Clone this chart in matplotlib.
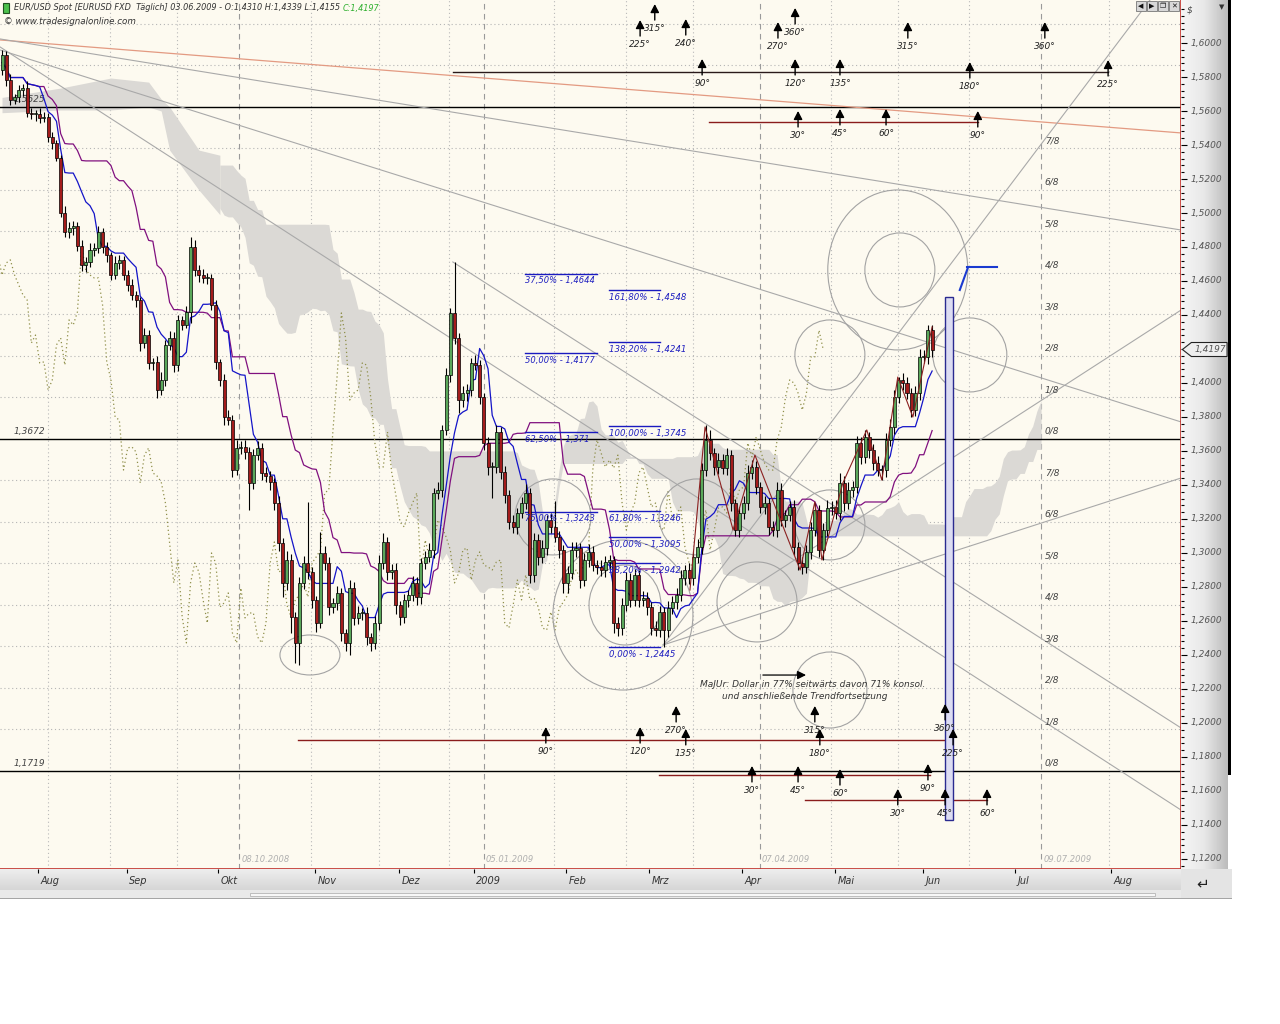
import numpy as np
import pandas as pd
import matplotlib
matplotlib.use("Agg")
import matplotlib.pyplot as plt
from matplotlib.patches import Rectangle, Ellipse, Polygon, FancyArrowPatch
from matplotlib.colors import LinearSegmentedColormap

# ---------------- DATA ----------------
first_open = 1.5841
close = [
 1.5929,1.5782,1.5665,1.5682,1.5724,1.5735,1.5588,1.5582,1.5582,1.5559,
 1.5565,1.5447,1.5412,1.5324,1.5000,1.4888,1.4912,1.4924,1.4806,1.4694,
 1.4712,1.4782,1.4794,1.4888,1.4800,1.4753,1.4635,1.4706,1.4724,1.4635,
 1.4577,1.4518,1.4488,1.4235,1.4282,1.4118,1.4124,1.3959,1.4018,1.4224,
 1.4265,1.4106,1.4371,1.4341,1.4418,1.4800,1.4665,1.4635,1.4618,1.4618,
 1.4459,1.4124,1.4018,1.3800,1.3782,1.3488,1.3618,1.3624,1.3594,1.3412,
 1.3576,1.3618,1.3471,1.3453,1.3418,1.3294,1.3059,1.2824,1.2959,1.2624,
 1.2471,1.2824,1.2941,1.2888,1.2724,1.2588,1.3000,1.2941,1.2682,1.2706,
 1.2765,1.2529,1.2471,1.2794,1.2618,1.2647,1.2647,1.2506,1.2471,1.2588,
 1.2941,1.3065,1.2888,1.2900,1.2694,1.2624,1.2724,1.2753,1.2824,1.2741,
 1.2941,1.2977,1.3018,1.3353,1.3371,1.3724,1.4047,1.4412,1.4265,1.3900,
 1.3941,1.3959,1.4118,1.4106,1.3918,1.3647,1.3506,1.3506,1.3712,1.3476,
 1.3341,1.3182,1.3153,1.3235,1.3294,1.3353,1.2871,1.3076,1.2977,1.3029,
 1.3194,1.3153,1.3094,1.3018,1.2824,1.2882,1.3018,1.3029,1.2841,1.2959,
 1.3006,1.2929,1.2918,1.2900,1.2947,1.2959,1.2588,1.2559,1.2694,1.2841,
 1.2724,1.2871,1.2724,1.2735,1.2682,1.2559,1.2547,1.2653,1.2547,1.2677,
 1.2712,1.2753,1.2853,1.2900,1.2853,1.2977,1.3035,1.3488,1.3665,1.3588,
 1.3506,1.3547,1.3500,1.3576,1.3294,1.3135,1.3235,1.3294,1.3471,1.3506,
 1.3388,1.3271,1.3294,1.3153,1.3135,1.3371,1.3194,1.3224,1.3271,1.3035,
 1.2941,1.2918,1.3006,1.3135,1.3253,1.3018,1.3135,1.3265,1.3271,1.3235,
 1.3412,1.3294,1.3371,1.3388,1.3647,1.3565,1.3682,1.3606,1.3529,1.3488,
 1.3488,1.3665,1.3741,1.3918,1.4018,1.4000,1.3941,1.3841,1.3941,1.4153,
 1.4153,1.4310,1.4197]
upper_wick_pips = [
 30,25,35,20,30,25,40,30,25,35, 30,25,30,20,15,40,35,30,25,35,
 30,40,30,35,25,30,20,40,30,25, 30,35,25,20,40,30,25,35,45,30,
 40,35,30,25,35,60,40,30,35,30, 25,30,20,35,40,30,45,35,40,30,
 35,40,30,35,30,25,40,30,50,35, 30,35,40,360,30,25,125,40,35,30,
 40,30,25,45,35,40,30,35,25,40, 45,50,30,35,40,25,35,30,40,35,
 30,35,40,30,45,30,40,30,300,30, 40,35,30,45,30,25,35,30,40,30,
 35,30,40,30,35,50,30,40,35,45, 30,40,150,35,30,40,45,35,30,40,
 45,35,30,40,35,30,25,35,40,45, 40,35,30,40,35,30,40,35,30,40,
 35,40,45,30,40,35,45,40,90,60, 30,40,35,40,30,25,35,40,45,40,
 35,30,40,30,35,45,40,30,35,40, 30,35,40,45,40,30,40,45,35,40,
 60,40,45,35,40,35,40,30,35,40, 30,40,45,40,20,40,35,30,40,45,
 40,30,29]
lower_wick_pips = [
 30,35,30,25,30,35,25,30,40,30, 25,30,35,20,25,30,35,40,30,35,
 40,30,35,30,35,40,30,25,35,30, 35,30,40,45,30,35,40,50,30,35,
 30,40,35,30,20,65,35,40,30,35, 30,40,35,45,30,40,30,35,40,160,
 35,30,40,35,45,40,50,80,40,95, 120,130,35,40,45,50,30,40,45,35,
 40,45,50,70,40,35,40,45,50,35, 40,35,45,40,50,45,35,40,35,45,
 40,35,30,45,35,40,30,40,35,75, 40,45,35,30,40,40,50,180,35,40,
 45,40,35,40,30,35,50,40,45,35, 40,35,30,45,60,60,35,40,45,35,
 40,35,40,35,40,35,60,50,40,35, 40,35,40,35,45,40,35,40,100,40,
 35,40,35,40,35,40,35,40,35,40, 45,40,35,40,45,35,40,35,40,35,
 40,35,40,45,35,40,35,40,35,45, 40,40,35,40,35,40,60,35,40,35,
 40,45,35,40,35,40,35,45,40,35, 60,40,35,40,35,40,35,40,35,40,
 35,40,42]

month_labels = ["Aug", "Sep", "Okt", "Nov", "Dez", "2009", "Feb", "Mrz", "Apr", "Mai", "Jun", "Jul", "Aug"]
month_bar = [8.6, 29.8, 51.6, 74.7, 94.7, 112.6, 134.6, 154.4, 176.6, 198.8, 219.8, 241.8, 264.7]
grid_dotted_bar = [11.0, 25.8, 41.8, 73.7, 90.0, 106.7, 131.7, 148.9, 164.9, 197.9, 213.8, 230.8, 264.2]
grid_dashed_bar = [56.6, 115.0, 180.9, 248.0]
grid_dashed_labels = ["08.10.2008", "05.01.2009", "07.04.2009", "09.07.2009"]

# Ichimoku cloud before enough history is on the chart
pre_cloud_bar = [0, 14, 26, 35, 38, 40, 47, 52]
pre_cloud_top = [1.5680, 1.5735, 1.5794, 1.5770, 1.5670, 1.5624, 1.5370, 1.5340]
pre_cloud_bot = [1.5590, 1.5606, 1.5606, 1.5624, 1.5600, 1.5370, 1.5135, 1.4990]

murrey_base = 1.1719
murrey_step = 0.0244125
murrey_solid_labels = ["1,1719", "1,3672", "1,5625"]

fib_left_labels = ["37,50% - 1,4644", "50,00% - 1,4177", "62,50% - 1,371", "75,00% - 1,3243"]
fib_left_values = [1.4644, 1.4177, 1.3710, 1.3243]
fib_left_span = (124.8, 142.0)
fib_right_labels = ["161,80% - 1,4548", "138,20% - 1,4241", "100,00% - 1,3745", "61,80% - 1,3246",
                    "50,00% - 1,3095", "38,20% - 1,2942", "0,00% - 1,2445"]
fib_right_values = [1.4548, 1.4241, 1.3745, 1.3246, 1.3095, 1.2942, 1.2445]
fib_right_span = (144.9, 157.0)

# trend lines: (bar0, price0, bar1, price1)
trend_orange = [(-0.48, 1.6018, 281.4, 1.5471)]
trend_gray = [(-0.48, 1.6024, 281.4, 1.4900),
              (-0.48, 1.5959, 281.4, 1.3771),
              (-0.48, 1.5977, 281.4, 1.1488),
              (107.6, 1.4712, 281.4, 1.1971),
              (157.8, 1.2459, 274.0, 1.6253),
              (157.8, 1.2459, 281.4, 1.4429),
              (157.8, 1.2459, 281.4, 1.3441)]

# zigzag pivots
zz_bar = [164.2, 167.8, 174.5, 179.7, 190.5, 194.0, 195.7, 200.7, 206.4, 210.0, 213.8, 217.4, 222.0]
zz_price = [1.2782, 1.3741, 1.3135, 1.3576, 1.2900, 1.3300, 1.2959, 1.3412, 1.3724, 1.3429, 1.4035, 1.3800, 1.4330]

# Gann circles: center bar, center price, radius (screen px)
circ_bar = [73.5, 131.5, 148.2, 148.7, 165.9, 180.2, 197.6, 197.6, 213.8, 214.3, 231.0, 197.6]
circ_price = [1.2400, 1.3212, 1.2635, 1.2694, 1.3212, 1.2712, 1.3165, 1.4165, 1.4665, 1.4665, 1.4165, 1.2194]
circ_rx = [30, 38, 70, 36, 38, 40, 35, 35, 70, 35, 37, 37]
circ_ry = [20, 38, 75, 40, 38, 40, 35, 35, 80, 37, 37, 38]

# Gann angle arrows: bar, base price, label
arrow_bar = [152.3, 155.8, 163.2, 167.1, 185.2, 189.3, 189.3, 200.0, 216.2, 231.0, 248.9, 264.0,
             190.0, 200.0, 211.0, 232.9,
             129.8, 152.3, 163.2, 160.9, 194.0, 195.2, 225.1, 227.0,
             179.0, 190.0, 200.0, 221.0, 213.8, 225.1, 235.1]
arrow_base = [1.6041, 1.6135, 1.6047, 1.5812, 1.6029, 1.6112, 1.5812, 1.5812, 1.6029, 1.5794, 1.6029, 1.5806,
              1.5506, 1.5518, 1.5518, 1.5506,
              1.1882, 1.1882, 1.1871, 1.2006, 1.2006, 1.1871, 1.2018, 1.1871,
              1.1653, 1.1653, 1.1635, 1.1665, 1.1518, 1.1518, 1.1518]
arrow_label = ["225°", "315°", "240°", "90°", "270°", "360°", "120°", "135°", "315°", "180°", "360°", "225°",
               "30°", "45°", "60°", "90°",
               "90°", "120°", "135°", "270°", "315°", "180°", "360°", "225°",
               "30°", "45°", "60°", "90°", "30°", "45°", "60°"]
# horizontal level segments: price, bar0, bar1, colour key
level_price = [1.5829, 1.5535, 1.1900, 1.1694, 1.1547]
level_b0 = [107.6, 168.7, 70.6, 156.8, 191.6]
level_b1 = [264.0, 233.0, 226.3, 221.5, 235.1]
level_kind = ["dark", "red", "red", "red", "red"]

box_bars = (225.1, 227.0)
box_prices = (1.1429, 1.4506)

note_lines = ["MaJUr: Dollar in 77% seitwärts davon 71% konsol.", "und anschließende Trendfortsetzung"]

# ---------------- DERIVED ----------------
n = len(close)
x = np.arange(n)
c = np.array(close)
o = np.concatenate([[first_open], c[:-1]])
h = np.maximum(o, c) + np.array(upper_wick_pips) * 1e-4
l = np.minimum(o, c) - np.array(lower_wick_pips) * 1e-4
hs, ls = pd.Series(h), pd.Series(l)
tenkan = (hs.rolling(9, min_periods=1).max() + ls.rolling(9, min_periods=1).min()) / 2
kijun = (hs.rolling(26, min_periods=1).max() + ls.rolling(26, min_periods=1).min()) / 2
spanA = (tenkan + kijun) / 2
spanB = (hs.rolling(52, min_periods=1).max() + ls.rolling(52, min_periods=1).min()) / 2

# ---------------- FIGURE ----------------
W, H = 1280, 1024
PR, PB = 1181, 869
fig = plt.figure(figsize=(W / 100, H / 100), dpi=100)
fig.patch.set_facecolor("white")
XMIN, XMAX = -0.48, 281.4
YMIN, YMAX = 1.1141, 1.6253
ax = fig.add_axes([0, 1 - PB / H, PR / W, PB / H])
ax.set_facecolor("#fdfaf0")
ax.set_xlim(XMIN, XMAX)
ax.set_ylim(YMIN, YMAX)
ax.set_xticks([]); ax.set_yticks([])
for s in ["top", "left"]:
    ax.spines[s].set_visible(False)
for s in ["right", "bottom"]:
    ax.spines[s].set_color("#c0302a"); ax.spines[s].set_linewidth(1.2)

pxb = PR / (XMAX - XMIN)   # px per bar
pxp = PB / (YMAX - YMIN)   # px per price unit

FONT = dict(family="DejaVu Sans", style="italic")

# grid
for b in grid_dotted_bar:
    ax.axvline(b, color="#b9b9b9", lw=0.8, ls=(0, (1, 2.5)), zorder=0.5)
for b, lab in zip(grid_dashed_bar, grid_dashed_labels):
    ax.axvline(b, color="#9a9a9a", lw=0.8, ls=(0, (5, 4)), zorder=0.5)
    ax.text(b + 0.5, 0.006, lab, transform=ax.get_xaxis_transform(), fontsize=6, color="#b0b0b0",
            ha="left", va="bottom", **FONT)

# Murrey math lines
for k in range(0, 19):
    lev = murrey_base + k * murrey_step
    if k % 8 == 0:
        ax.axhline(lev, color="black", lw=1.0, zorder=2)
    else:
        ax.axhline(lev, color="#b5b5b5", lw=0.8, ls=(0, (1, 2.5)), zorder=0.5)
for k in range(0, 16):
    lev = murrey_base + k * murrey_step
    ax.annotate(f"{k % 8}/8", (250.6, lev), xytext=(0, 2), textcoords="offset points",
                ha="center", va="bottom", fontsize=6.5, color="#444444", **FONT)
for k, lab in zip([0, 8, 16], murrey_solid_labels):
    lev = murrey_base + k * murrey_step
    ax.annotate(lab, (6.5, lev), xytext=(0, 2), textcoords="offset points", ha="center",
                va="bottom", fontsize=6.5, color="#444444", **FONT, zorder=3)

# cloud
ax.fill_between(pre_cloud_bar, pre_cloud_top, pre_cloud_bot, color="#dbd9d5", lw=0, zorder=1)
xs = x[26:] + 26
ax.fill_between(xs, spanA.values[26:], spanB.values[26:], color="#dbd9d5", lw=0, zorder=1)

# trend lines
for (b0, p0, b1, p1) in trend_orange:
    ax.plot([b0, b1], [p0, p1], color="#e39a82", lw=0.9, zorder=2)
for (b0, p0, b1, p1) in trend_gray:
    ax.plot([b0, b1], [p0, p1], color="#a9a9a9", lw=0.8, zorder=2)

# chikou
ax.plot(x - 26, c, color="#8f8f4a", lw=0.9, ls=(0, (1, 2.2)), zorder=2)
# tenkan / kijun
ax.plot(x, kijun, color="#80107f", lw=0.9, zorder=3)
ax.plot(x, tenkan, color="#1414c8", lw=0.9, zorder=3)

# circles
for cb, cp, rx, ry in zip(circ_bar, circ_price, circ_rx, circ_ry):
    ax.add_patch(Ellipse((cb, cp), 2 * rx / pxb, 2 * ry / pxp, fill=False, ec="#a3a3a3", lw=0.8, zorder=2))

# candles
ax.vlines(x, l, h, color="black", lw=0.8, zorder=5)
cols = np.where(c >= o, "#5aa85a", "#a41c1c")
ax.bar(x, np.maximum(np.abs(c - o), 0.0004), bottom=np.minimum(o, c), width=0.72,
       color=cols, edgecolor="black", linewidth=0.5, zorder=6)

# zigzag
ax.plot(zz_bar, zz_price, color="#8b2020", lw=0.8, zorder=6.5)

# fibonacci levels
for lab, v in zip(fib_left_labels, fib_left_values):
    ax.plot(fib_left_span, [v, v], color="#1a1ac0", lw=1.0, zorder=4)
    ax.annotate(lab, (fib_left_span[0], v), xytext=(0, -2), textcoords="offset points",
                ha="left", va="top", fontsize=6, color="#2020c0", **FONT, zorder=7)
for lab, v in zip(fib_right_labels, fib_right_values):
    ax.plot(fib_right_span, [v, v], color="#1a1ac0", lw=1.0, zorder=4)
    ax.annotate(lab, (fib_right_span[0], v), xytext=(0, -2), textcoords="offset points",
                ha="left", va="top", fontsize=6.2, color="#2020c0", **FONT, zorder=7)

# level segments
for p, b0, b1, kind in zip(level_price, level_b0, level_b1, level_kind):
    ax.plot([b0, b1], [p, p], color="#2a1a1a" if kind == "dark" else "#8a1c1c", lw=1.0, zorder=4)

# arrows
alen = 16 / pxp
for b, p, lab in zip(arrow_bar, arrow_base, arrow_label):
    ax.add_patch(FancyArrowPatch((b, p), (b, p + alen), arrowstyle="-|>,head_length=5,head_width=2.6",
                                 color="black", lw=1.0, zorder=8, shrinkA=0, shrinkB=0))
    ax.annotate(lab, (b, p), xytext=(0, -3), textcoords="offset points", ha="center", va="top",
                fontsize=6.5, color="#222222", **FONT, zorder=8)

# vertical box
ax.add_patch(Rectangle((box_bars[0], box_prices[0]), box_bars[1] - box_bars[0], box_prices[1] - box_prices[0],
                       facecolor="#dcdcf2", edgecolor="#2a2a90", lw=1.0, zorder=7))
# blue T mark
ax.plot([230.3, 237.5], [1.4682, 1.4682], color="#1a3ad0", lw=1.5, zorder=8)
ax.plot([230.5, 228.6], [1.4676, 1.4547], color="#1a3ad0", lw=1.5, zorder=8)

# note
ax.text(193.6, 1.2224, note_lines[0], ha="center", va="center", fontsize=6.5, color="#333333", **FONT, zorder=8)
ax.text(191.5, 1.2153, note_lines[1], ha="center", va="center", fontsize=6.5, color="#333333", **FONT, zorder=8)
ax.add_patch(FancyArrowPatch((181.6, 1.2282), (191.9, 1.2282), arrowstyle="-|>,head_length=5,head_width=2.5",
                             color="black", lw=0.9, zorder=8, shrinkA=0, shrinkB=0))

# header
fig.patches.append(Rectangle((3 / W, 1 - 13 / H), 6 / W, 10 / H, transform=fig.transFigure,
                             facecolor="#4cc04c", edgecolor="#205020", lw=0.8))
t1 = fig.text(14 / W, 1 - 8 / H, "EUR/USD Spot [EURUSD FXD  Täglich] 03.06.2009 - O:1,4310 H:1,4339 L:1,4155 ",
              fontsize=5.9, color="#333333", va="center", ha="left", **FONT)
fig.canvas.draw()
bb = t1.get_window_extent()
fig.text(bb.x1 / W, 1 - 8 / H, "C:1,4197", fontsize=5.9, color="#30b030", va="center", ha="left", **FONT)
fig.text(4 / W, 1 - 22 / H, "© www.tradesignalonline.com", fontsize=6.3, color="#333333", va="center", ha="left", **FONT)

# right price panel
axr = fig.add_axes([PR / W, 1 - PB / H, 47 / W, PB / H])
grad = LinearSegmentedColormap.from_list("g", ["#f6f6f6", "#e8e8e8", "#bcbcbc"])
axr.imshow(np.linspace(0, 1, 64).reshape(1, -1), cmap=grad, aspect="auto", extent=[0, 1, 0, 1],
           transform=axr.transAxes)
axr.set_xlim(0, 1); axr.set_ylim(YMIN, YMAX)
for s in axr.spines.values():
    s.set_visible(False)
major = np.arange(1.12, 1.6001, 0.02)
minor = np.arange(1.116, 1.624, 0.004)
axr.set_yticks(major); axr.set_yticks(minor, minor=True)
axr.set_xticks([])
axr.tick_params(axis="y", which="major", direction="in", length=4, width=0.8, left=True, labelleft=False)
axr.tick_params(axis="y", which="minor", direction="in", length=2.5, width=0.8, left=True)
last = close[-1]
for v in major:
    if abs(v - last) < 0.008:
        continue
    axr.text(0.2, v, f"{v:.4f}".replace(".", ","), transform=axr.get_yaxis_transform(), fontsize=6.5,
             color="#555555", va="center", ha="left", **FONT)
axr.text(0.12, 0.994, "$", transform=axr.transAxes, fontsize=6.5, color="#444", va="top", **FONT)
axr.text(0.8, 0.995, "▼", transform=axr.transAxes, fontsize=5, color="#333", va="top")
hp = 7 / pxp
axr.add_patch(Polygon([[0.03, last], [0.22, last + hp], [0.98, last + hp], [0.98, last - hp], [0.22, last - hp]],
                      closed=True, transform=axr.get_yaxis_transform(), facecolor="#eeeeee",
                      edgecolor="#222222", lw=0.8, zorder=5))
axr.text(0.28, last, f"{last:.4f}".replace(".", ","), transform=axr.get_yaxis_transform(), fontsize=6.5,
         color="#555555", va="center", ha="left", zorder=6, **FONT)
fig.patches.append(Rectangle((1228 / W, 1 - 775 / H), 3 / W, 775 / H, transform=fig.transFigure,
                             facecolor="black", lw=0))

# bottom time panel
axb = fig.add_axes([0, 1 - 890 / H, PR / W, 21 / H])
gradv = LinearSegmentedColormap.from_list("gv", ["#eeeeee", "#d6d6d6"])
axb.imshow(np.linspace(0, 1, 32).reshape(-1, 1), cmap=gradv, aspect="auto", extent=[0, 1, 0, 1],
           transform=axb.transAxes)
axb.set_xlim(XMIN, XMAX); axb.set_ylim(0, 1)
for s in axb.spines.values():
    s.set_visible(False)
axb.set_yticks([])
axb.set_xticks(month_bar)
axb.tick_params(axis="x", direction="in", length=3, width=0.8, top=True, bottom=False, labelbottom=False)
for b, lab in zip(month_bar, month_labels):
    axb.text(b + 0.6, 0.42, lab, fontsize=7, color="#333333", ha="left", va="center", **FONT)

# bottom strip & corner
fig.patches.append(Rectangle((0, 1 - 898 / H), 1232 / W, 8 / H, transform=fig.transFigure,
                             facecolor="#e9e9e9", edgecolor="none"))
fig.patches.append(Rectangle((250 / W, 1 - 896 / H), 905 / W, 3 / H, transform=fig.transFigure,
                             facecolor="#f7f7f7", edgecolor="#b5b5b5", lw=0.6))
fig.patches.append(Rectangle((0, 1 - 899 / H), 1232 / W, 1 / H, transform=fig.transFigure,
                             facecolor="#a5a5a5", edgecolor="none"))
fig.patches.append(Rectangle((PR / W, 1 - 898 / H), 51 / W, 29 / H, transform=fig.transFigure,
                             facecolor="#e4e4e4", edgecolor="none"))
fig.text(1203 / W, 1 - 884 / H, "↵", fontsize=11, color="#222", ha="center", va="center")

# top-right buttons
for i, sym in enumerate(["◀", "▶", "❐", "✕"]):
    x0 = 1136 + i * 11
    fig.patches.append(Rectangle((x0 / W, 1 - 11 / H), 10 / W, 10 / H, transform=fig.transFigure,
                                 facecolor="#d8d8d8", edgecolor="#777", lw=0.6))
    fig.text((x0 + 5) / W, 1 - 6 / H, sym, fontsize=5, ha="center", va="center", color="#111")

fig.savefig("out.png", dpi=100, facecolor="white")
